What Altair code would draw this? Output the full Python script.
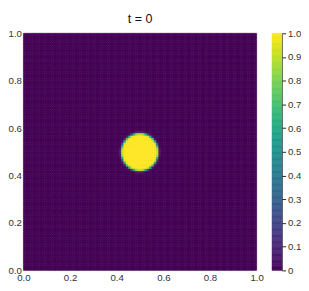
import altair as alt
import numpy as np
import pandas as pd

# Field t = 0: a disc of value 1 on a 100 x 100 grid, 0 elsewhere
grid_n = 100
disc_center = [0.5, 0.5]
disc_radius = 0.08
edge_width = 0.004
x_ticks = [0.0, 0.2, 0.4, 0.6, 0.8, 1.0]
y_ticks = [0.0, 0.2, 0.4, 0.6, 0.8, 1.0]
cbar_ticks = [0.0, 0.1, 0.2, 0.3, 0.4, 0.5, 0.6, 0.7, 0.8, 0.9, 1.0]

edges = np.linspace(0, 1, grid_n + 1)
centers = (edges[:-1] + edges[1:]) / 2
X, Y = np.meshgrid(centers, centers)
R = np.hypot(X - disc_center[0], Y - disc_center[1])
U = 0.5 * (1 - np.tanh((R - disc_radius) / edge_width))
U = np.round(U, 3)
I, J = np.meshgrid(np.arange(grid_n), np.arange(grid_n))
df = pd.DataFrame({
    "x0": np.round(edges[I.ravel()], 3),
    "x1": np.round(edges[I.ravel() + 1], 3),
    "y0": np.round(edges[J.ravel()], 3),
    "y1": np.round(edges[J.ravel() + 1], 3),
    "u": U.ravel(),
})

color_scale = alt.Scale(scheme="viridis", domain=[0, 1])

heat = alt.Chart(df, title=alt.Title("t = 0", fontSize=13, fontWeight="normal", offset=3)).mark_rect(strokeWidth=0.6).encode(
    x=alt.X("x0:Q", scale=alt.Scale(domain=[0, 1], nice=False), title=None,
            axis=alt.Axis(values=x_ticks, format=".1f", domain=False, grid=False, ticks=False,
                          labelPadding=2, labelFlush=False, labelOverlap=False)),
    x2="x1",
    y=alt.Y("y0:Q", scale=alt.Scale(domain=[0, 1], nice=False), title=None,
            axis=alt.Axis(values=y_ticks, format=".1f", domain=False, grid=False, ticks=False,
                          labelPadding=2, labelFlush=False, labelOverlap=False)),
    y2="y1",
    color=alt.Color("u:Q", scale=color_scale, legend=None),
    stroke=alt.Stroke("u:Q", scale=color_scale, legend=None),
).properties(width=242, height=246)

cb_steps = np.round(np.linspace(0, 1, 201), 4)
cbar_df = pd.DataFrame({"v0": cb_steps[:-1], "v1": cb_steps[1:], "u": (cb_steps[:-1] + cb_steps[1:]) / 2})
cbar = alt.Chart(cbar_df).mark_rect(strokeWidth=0.6).encode(
    y=alt.Y("v0:Q", scale=alt.Scale(domain=[0, 1], nice=False), title=None,
            axis=alt.Axis(orient="right", values=cbar_ticks, domain=True, domainColor="#222",
                          tickColor="#222", tickSize=4, grid=False, labelPadding=2,
                          labelFlush=False, labelOverlap=False,
                          labelExpr="datum.value == 0 ? '0' : format(datum.value, '.1f')")),
    y2="v1",
    color=alt.Color("u:Q", scale=color_scale, legend=None),
    stroke=alt.Stroke("u:Q", scale=color_scale, legend=None),
).properties(width=10, height=246)

chart = alt.hconcat(heat, cbar, spacing=8).properties(
    padding={"left": 0, "top": 0, "right": 0, "bottom": 0}
).configure_view(stroke=None).configure_axis(
    labelFont="Liberation Sans", labelFontSize=10, labelColor="#333"
).configure_title(font="Liberation Sans", color="#111")

chart.save("out.html", embed_options={"renderer": "svg", "actions": False})
